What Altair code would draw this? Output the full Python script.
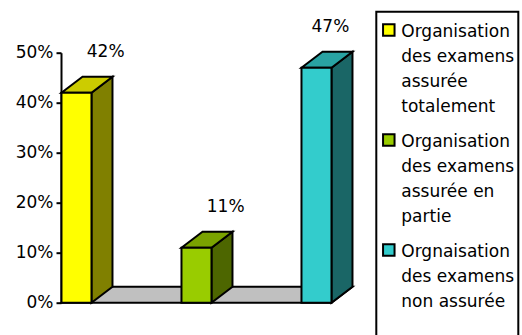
import altair as alt
import pandas as pd

# ---- data ----
categories = [
    "Organisation\ndes examens\nassurée\ntotalement",
    "Organisation\ndes examens\nassurée en\npartie",
    "Orgnaisation\ndes examens\nnon assurée",
]
values = [42, 11, 47]
front_colors = ["#FFFF00", "#99CC00", "#33CCCC"]
top_colors = ["#CCCC00", "#7AA300", "#29A3A3"]
side_colors = ["#808000", "#4D6600", "#1A6666"]
y_ticks = [0, 10, 20, 30, 40, 50]

# ---- layout / 3D look constants ----
BAR_W = 0.25
DX = 0.175
DY = 3.2
X_MIN, X_MAX = -0.129, 2.296
FONT = "DejaVu Sans"
FS = 17

n = len(categories)
bars = pd.DataFrame({"cat": categories, "value": values, "i": list(range(n))})

side_rows, top_rows = [], []
for i, (c, v, tc, sc) in enumerate(zip(categories, values, top_colors, side_colors)):
    side_rows += [
        dict(cat=c, x=i + BAR_W / 2, y=v, y2=0, c=sc),
        dict(cat=c, x=i + BAR_W / 2 + DX, y=v + DY, y2=DY, c=sc),
    ]
    top_rows += [
        dict(cat=c, y=v, x=i - BAR_W / 2, x2=i + BAR_W / 2, c=tc),
        dict(cat=c, y=v + DY, x=i - BAR_W / 2 + DX, x2=i + BAR_W / 2 + DX, c=tc),
    ]
sides = pd.DataFrame(side_rows)
tops = pd.DataFrame(top_rows)
floor = pd.DataFrame([
    dict(y=0, x=-BAR_W / 2, x2=n - 1 + BAR_W / 2),
    dict(y=DY, x=-BAR_W / 2 + DX, x2=n - 1 + BAR_W / 2 + DX),
])

xs = alt.Scale(domain=[X_MIN, X_MAX], nice=False, zero=False)
ys = alt.Scale(domain=[0, 50], nice=False)
yaxis = alt.Axis(values=y_ticks, labelExpr="datum.value + '%'", title=None, grid=False,
                 tickSize=5, tickWidth=2, tickColor="black", domainColor="black",
                 domainWidth=2, labelFont=FONT, labelFontSize=FS, labelColor="black",
                 labelPadding=3, labelFlush=False, labelOverlap=False)

legend = alt.Legend(
    title=" ", titleOrient="bottom", titleFontSize=FS, titlePadding=20,
    orient="none", legendX=315.3, legendY=-41,
    labelExpr="split(datum.label, '\\n')",
    labelFont=FONT, labelFontSize=FS, labelColor="black", labelLimit=400,
    labelBaseline="top", labelOffset=4,
    symbolType="M-1,0H1V2H-1Z", symbolSize=132,
    symbolStrokeColor="black", symbolStrokeWidth=2,
    strokeColor="black", padding=4, rowPadding=10,
)

floor_layer = alt.Chart(floor).mark_area(
    orient="horizontal", fill="#C0C0C0", stroke="black", strokeWidth=2
).encode(
    y=alt.Y("y:Q", scale=ys, axis=yaxis),
    x=alt.X("x:Q", scale=xs, axis=None),
    x2="x2:Q",
)

side_layer = alt.Chart(sides).mark_area(
    orient="vertical", stroke="black", strokeWidth=2
).encode(
    x=alt.X("x:Q", scale=xs, axis=None),
    y=alt.Y("y:Q", scale=ys, axis=yaxis),
    y2="y2:Q",
    detail="cat:N",
    fill=alt.Fill("c:N", scale=None),
)

top_layer = alt.Chart(tops).mark_area(
    orient="horizontal", stroke="black", strokeWidth=2
).encode(
    y=alt.Y("y:Q", scale=ys, axis=yaxis),
    x=alt.X("x:Q", scale=xs, axis=None),
    x2="x2:Q",
    detail="cat:N",
    fill=alt.Fill("c:N", scale=None),
)

front_layer = alt.Chart(bars).transform_calculate(
    xl=f"datum.i - {BAR_W / 2}", xr=f"datum.i + {BAR_W / 2}", base="0"
).mark_rect(stroke="black", strokeWidth=2).encode(
    x=alt.X("xl:Q", scale=xs, axis=None),
    x2="xr:Q",
    y=alt.Y("value:Q", scale=ys, axis=yaxis),
    y2="base:Q",
    color=alt.Color("cat:N", scale=alt.Scale(domain=categories, range=front_colors),
                    legend=legend),
)

text_layer = alt.Chart(bars).transform_calculate(
    lx=f"min(datum.i + 0.243, {X_MAX - 0.18})",
    ly=f"datum.value + {DY} + 4.9",
    lab="datum.value + '%'",
).mark_text(font=FONT, fontSize=FS, color="black", baseline="middle").encode(
    x=alt.X("lx:Q", scale=xs, axis=None),
    y=alt.Y("ly:Q", scale=ys, axis=yaxis),
    text="lab:N",
)

chart = alt.layer(floor_layer, side_layer, top_layer, front_layer, text_layer).properties(
    width=291, height=250,
    padding={"left": 61, "top": 52.7, "right": 170, "bottom": 32.3},
    autosize="none",
    background="white",
).configure(
    style={"guide-label": {"lineHeight": 25}}
).configure_view(stroke=None).configure_legend(strokeWidth=2)

chart.save("out.html", embed_options={"renderer": "svg", "actions": False})
